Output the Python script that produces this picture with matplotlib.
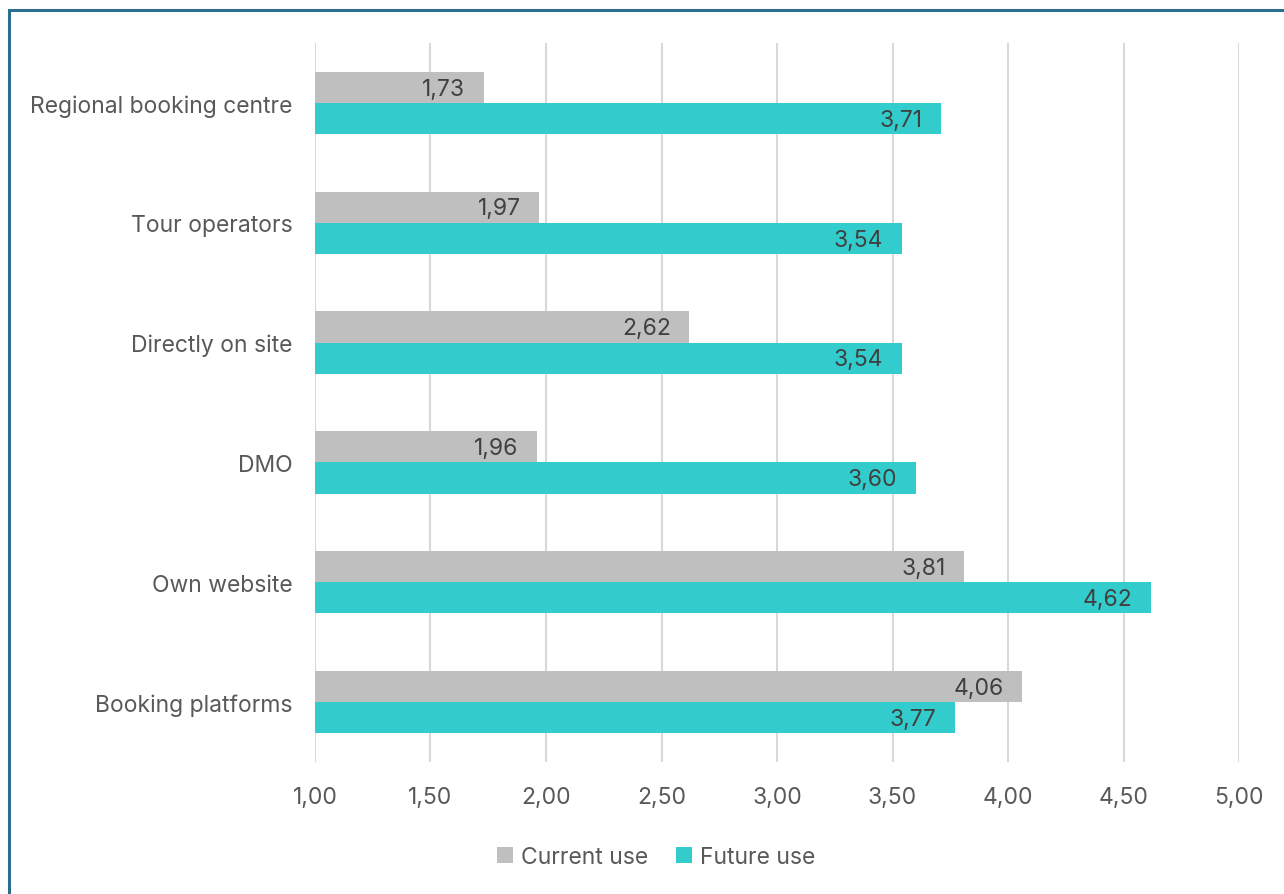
import matplotlib
matplotlib.use("Agg")
import matplotlib.pyplot as plt
import numpy as np
from matplotlib.patches import Rectangle

categories = ["Regional booking centre", "Tour operators", "Directly on site",
              "DMO", "Own website", "Booking platforms"]
current_use = [1.73, 1.97, 2.62, 1.96, 3.81, 4.06]
future_use = [3.71, 3.54, 3.54, 3.60, 4.62, 3.77]
x_ticks = [1.00, 1.50, 2.00, 2.50, 3.00, 3.50, 4.00, 4.50, 5.00]

GRAY = "#BFBFBF"
TEAL = "#33CCCC"
TEXT = "#595959"
LABEL = "#404040"
FS = 16.5

plt.rcParams["font.family"] = ["Inter", "DejaVu Sans"]

fig = plt.figure(figsize=(12.84, 8.95), dpi=100)
ax = fig.add_axes([0.2453, 0.1475, 0.965 - 0.2453, 0.9508 - 0.1475])

n = len(categories)
y = np.arange(n)[::-1].astype(float)
h = 0.26

ax.barh(y + h / 2, current_use, height=h, color=GRAY, label="Current use", zorder=2)
ax.barh(y - h / 2, future_use, height=h, color=TEAL, label="Future use", zorder=2)

# value labels sit just inside the end of each bar
for yi, v in zip(y, current_use):
    ax.text(v - 0.08, yi + h / 2 - 0.01, f"{v:.2f}".replace(".", ","), ha="right",
            va="center", fontsize=FS, color=LABEL, zorder=3)
for yi, v in zip(y, future_use):
    ax.text(v - 0.08, yi - h / 2 - 0.01, f"{v:.2f}".replace(".", ","), ha="right",
            va="center", fontsize=FS, color=LABEL, zorder=3)

ax.set_xlim(1, 5)
ax.set_ylim(-0.5, n - 0.5)
ax.set_xticks(x_ticks)
ax.set_xticklabels([f"{t:.2f}".replace(".", ",") for t in x_ticks])
ax.set_yticks(y)
ax.set_yticklabels(categories)
ax.tick_params(axis="both", length=0, labelsize=FS, labelcolor=TEXT)
ax.tick_params(axis="x", pad=17)
ax.tick_params(axis="y", pad=16)
ax.grid(axis="x", color="#D9D9D9", linewidth=1.5, zorder=0)
ax.set_axisbelow(True)
for s in ax.spines.values():
    s.set_visible(False)

leg = fig.legend(loc="center", bbox_to_anchor=(0.511, 1 - 858 / 895), ncol=2,
                 frameon=False, fontsize=FS, handlelength=0.7, handleheight=0.7,
                 handletextpad=0.35, columnspacing=1.2)
for t in leg.get_texts():
    t.set_color(TEXT)

# Outer frame
fig.patches.append(Rectangle((9 / 1284, -0.02), 1.05, 1 - 11 / 895 + 0.02,
                             transform=fig.transFigure, fill=False,
                             edgecolor="#2B6E8E", linewidth=2.2))

fig.savefig("out.png", dpi=100)
